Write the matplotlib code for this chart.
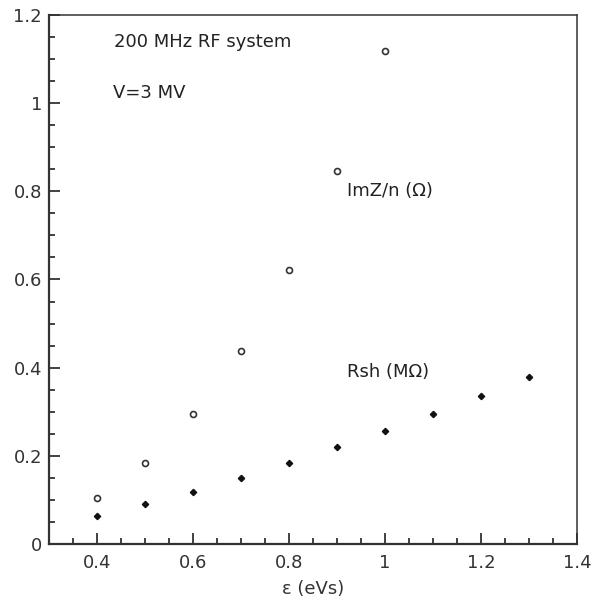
import matplotlib
matplotlib.use("Agg")
import matplotlib.pyplot as plt
from matplotlib.ticker import MultipleLocator, FuncFormatter

plt.rcParams['font.family'] = ['DejaVu Sans']

eps_imz = [0.4, 0.5, 0.6, 0.7, 0.8, 0.9, 1.0]
imz = [0.104, 0.184, 0.296, 0.438, 0.621, 0.846, 1.118]
eps_rsh = [0.4, 0.5, 0.6, 0.7, 0.8, 0.9, 1.0, 1.1, 1.2, 1.3]
rsh = [0.064, 0.091, 0.119, 0.150, 0.183, 0.220, 0.256, 0.295, 0.335, 0.379]

fig = plt.figure(figsize=(5.92, 6.04), dpi=100)
ax = fig.add_axes([49/592, 1-544/604, (577-49)/592, (544-15)/604])

ax.plot(eps_imz, imz, linestyle='none', marker='o', markersize=4.3,
        markerfacecolor='white', markeredgecolor='#333333', markeredgewidth=1.2)
ax.plot(eps_rsh, rsh, linestyle='none', marker='D', markersize=3.2,
        markerfacecolor='#111111', markeredgecolor='#111111')

ax.set_xlim(0.3, 1.4)
ax.set_ylim(0, 1.2)
ax.xaxis.set_major_locator(MultipleLocator(0.2))
ax.xaxis.set_minor_locator(MultipleLocator(0.05))
ax.yaxis.set_major_locator(MultipleLocator(0.2))
ax.yaxis.set_minor_locator(MultipleLocator(0.05))
fmt = FuncFormatter(lambda v, p: ('%g' % round(v, 2)))
ax.xaxis.set_major_formatter(fmt)
ax.yaxis.set_major_formatter(fmt)

fs = 13
ax.tick_params(which='both', direction='in', top=False, right=False,
               colors='#333333', labelsize=fs, width=1.3)
ax.tick_params(which='major', length=8)
ax.tick_params(which='minor', length=4.3)
ax.tick_params(axis='x', pad=7)
ax.tick_params(axis='y', pad=5)
for s in ['left', 'bottom']:
    ax.spines[s].set_linewidth(1.6)
    ax.spines[s].set_color('#333333')
for s in ['top', 'right']:
    ax.spines[s].set_linewidth(1.1)
    ax.spines[s].set_color('#333333')

ax.set_xlabel('ε (eVs)', fontsize=fs, color='#333333', labelpad=6)

ax.text(0.435, 1.138, '200 MHz RF system', fontsize=fs, color='#222222', va='center')
ax.text(0.434, 1.023, 'V=3 MV', fontsize=fs, color='#222222', va='center')
ax.text(0.92, 0.80, 'ImZ/n (Ω)', fontsize=fs, color='#222222', va='center')
ax.text(0.92, 0.39, 'Rsh (MΩ)', fontsize=fs, color='#222222', va='center')

fig.savefig('out.png', dpi=100)
